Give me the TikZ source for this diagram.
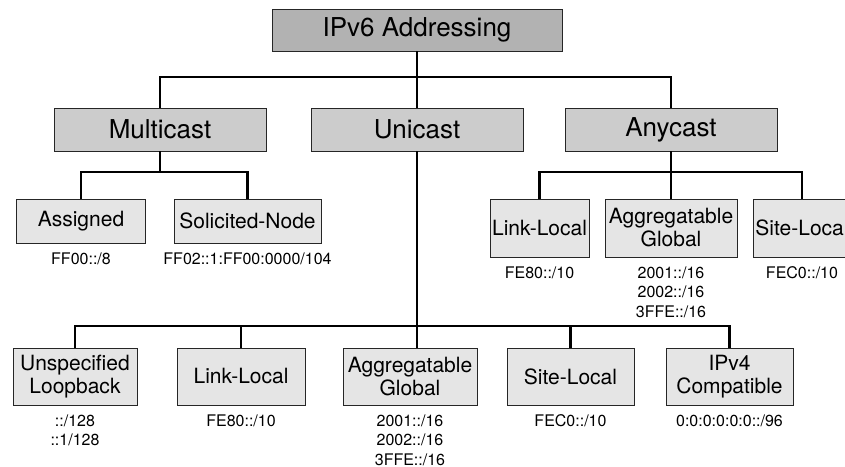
\documentclass[tikz,border=0pt]{standalone}
\usepackage{fontspec}
\setmainfont{TeX Gyre Heros}
\usepackage{tikz}
\usetikzlibrary{positioning}
\tikzstyle{line} = [draw, line width=2.2pt]
\tikzstyle{root_box} = [rectangle, draw=black!85, line width=0.9pt, fill=black!30, minimum width=290pt, minimum height=42pt, inner sep=0pt, font=\fontsize{26}{30}\selectfont]
\tikzstyle{type_box} = [rectangle, draw=black!85, line width=0.9pt, fill=black!20, minimum width=212pt, minimum height=43pt, inner sep=0pt, font=\fontsize{26}{30}\selectfont]
\tikzstyle{sub_box} = [rectangle, draw=black!85, line width=0.9pt, fill=black!10, minimum height=44pt, inner sep=1pt, align=center, font=\fontsize{21}{23}\selectfont]
\tikzstyle{addr} = [inner sep=0pt, align=center, font=\fontsize{16}{19.5}\selectfont]

\begin{document}
\begin{tikzpicture}[x=1pt, y=1pt]
\useasboundingbox (0,0) rectangle (845,466);
\clip (0,0) rectangle (845,466);

\node [root_box] (ipv6) at (417,436) {IPv6 Addressing};
\node [type_box, below of = ipv6, node distance = 99.5pt] (uni) {Unicast};
\node [type_box, left of = uni, node distance = 257pt] (multi) {Multicast};
\node [type_box, right of = uni, node distance = 254pt] (any) {Anycast};

\coordinate (bus0) at (417,389);
\path [line] (ipv6.south) to (uni.north);
\path [line] (multi.north) |- (bus0) -| (any.north);

% multicast
\node [sub_box, below of = multi, node distance = 91.5pt, xshift = -79pt, minimum width = 129pt] (assigned) {Assigned};
\node [sub_box, below of = multi, node distance = 91.5pt, xshift = 87.5pt, minimum width = 147pt] (solicited) {Solicited-Node};
\coordinate (bus1m) at (160,294);
\path [line] (multi.south) to (bus1m);
\path [line] (assigned.north) |- (bus1m) -| (solicited.north);
\node [addr, below = 9pt of assigned] (assigned_a) {FF00::/8};
\node [addr, below = 9pt of solicited] (solicited_a) {FF02::1:FF00:0000/104};

% anycast
\node [sub_box, below of = any, node distance = 98.5pt, xshift = -131.5pt, minimum width = 99pt, minimum height = 58pt] (ll_any) {Link-Local};
\node [sub_box, below of = any, node distance = 98.5pt, minimum width = 132pt, minimum height = 58pt] (agg_any) {Aggregatable\\Global};
\node [sub_box, below of = any, node distance = 98.5pt, xshift = 131pt, minimum width = 98pt, minimum height = 58pt] (site_any) {Site-Local};
\coordinate (bus1a) at (671,294);
\path [line] (any.south) to (bus1a);
\path [line] (ll_any.north) |- (bus1a) -| (site_any.north);
\path [line] (bus1a) to (agg_any.north);
\node [addr, below = 9pt of ll_any] (ll_any_a) {FE80::/10};
\node [addr, below = 9pt of agg_any] (agg_any_a) {2001::/16\\2002::/16\\3FFE::/16};
\node [addr, below = 9pt of site_any] (site_any_a) {FEC0::/10};

% unicast
\node [sub_box, below of = uni, node distance = 247pt, xshift = -342pt, minimum width = 124pt, minimum height = 57pt] (unspec) {Unspecified\\Loopback};
\node [sub_box, below of = uni, node distance = 247pt, xshift = -176pt, minimum width = 128pt, minimum height = 57pt] (ll_uni) {Link-Local};
\node [sub_box, below of = uni, node distance = 247pt, xshift = -7pt, minimum width = 134pt, minimum height = 57pt] (agg_uni) {Aggregatable\\Global};
\node [sub_box, below of = uni, node distance = 247pt, xshift = 153.5pt, minimum width = 127pt, minimum height = 57pt] (site_uni) {Site-Local};
\node [sub_box, below of = uni, node distance = 247pt, xshift = 312.5pt, minimum width = 127pt, minimum height = 57pt] (ipv4) {IPv4\\Compatible};
\coordinate (bus2) at (417,140);
\path [line] (uni.south) to (uni.south |- agg_uni.north);
\path [line] (unspec.north) |- (bus2) -| (ipv4.north);
\path [line] (ll_uni.north) to (ll_uni.north |- bus2);
\path [line] (site_uni.north) to (site_uni.north |- bus2);
\node [addr, below = 9pt of unspec] (unspec_a) {::/128\\::1/128};
\node [addr, below = 9pt of ll_uni] (ll_uni_a) {FE80::/10};
\node [addr, below = 9pt of agg_uni] (agg_uni_a) {2001::/16\\2002::/16\\3FFE::/16};
\node [addr, below = 9pt of site_uni] (site_uni_a) {FEC0::/10};
\node [addr, below = 9pt of ipv4] (ipv4_a) {0:0:0:0:0:0::/96};

\end{tikzpicture}
\end{document}
